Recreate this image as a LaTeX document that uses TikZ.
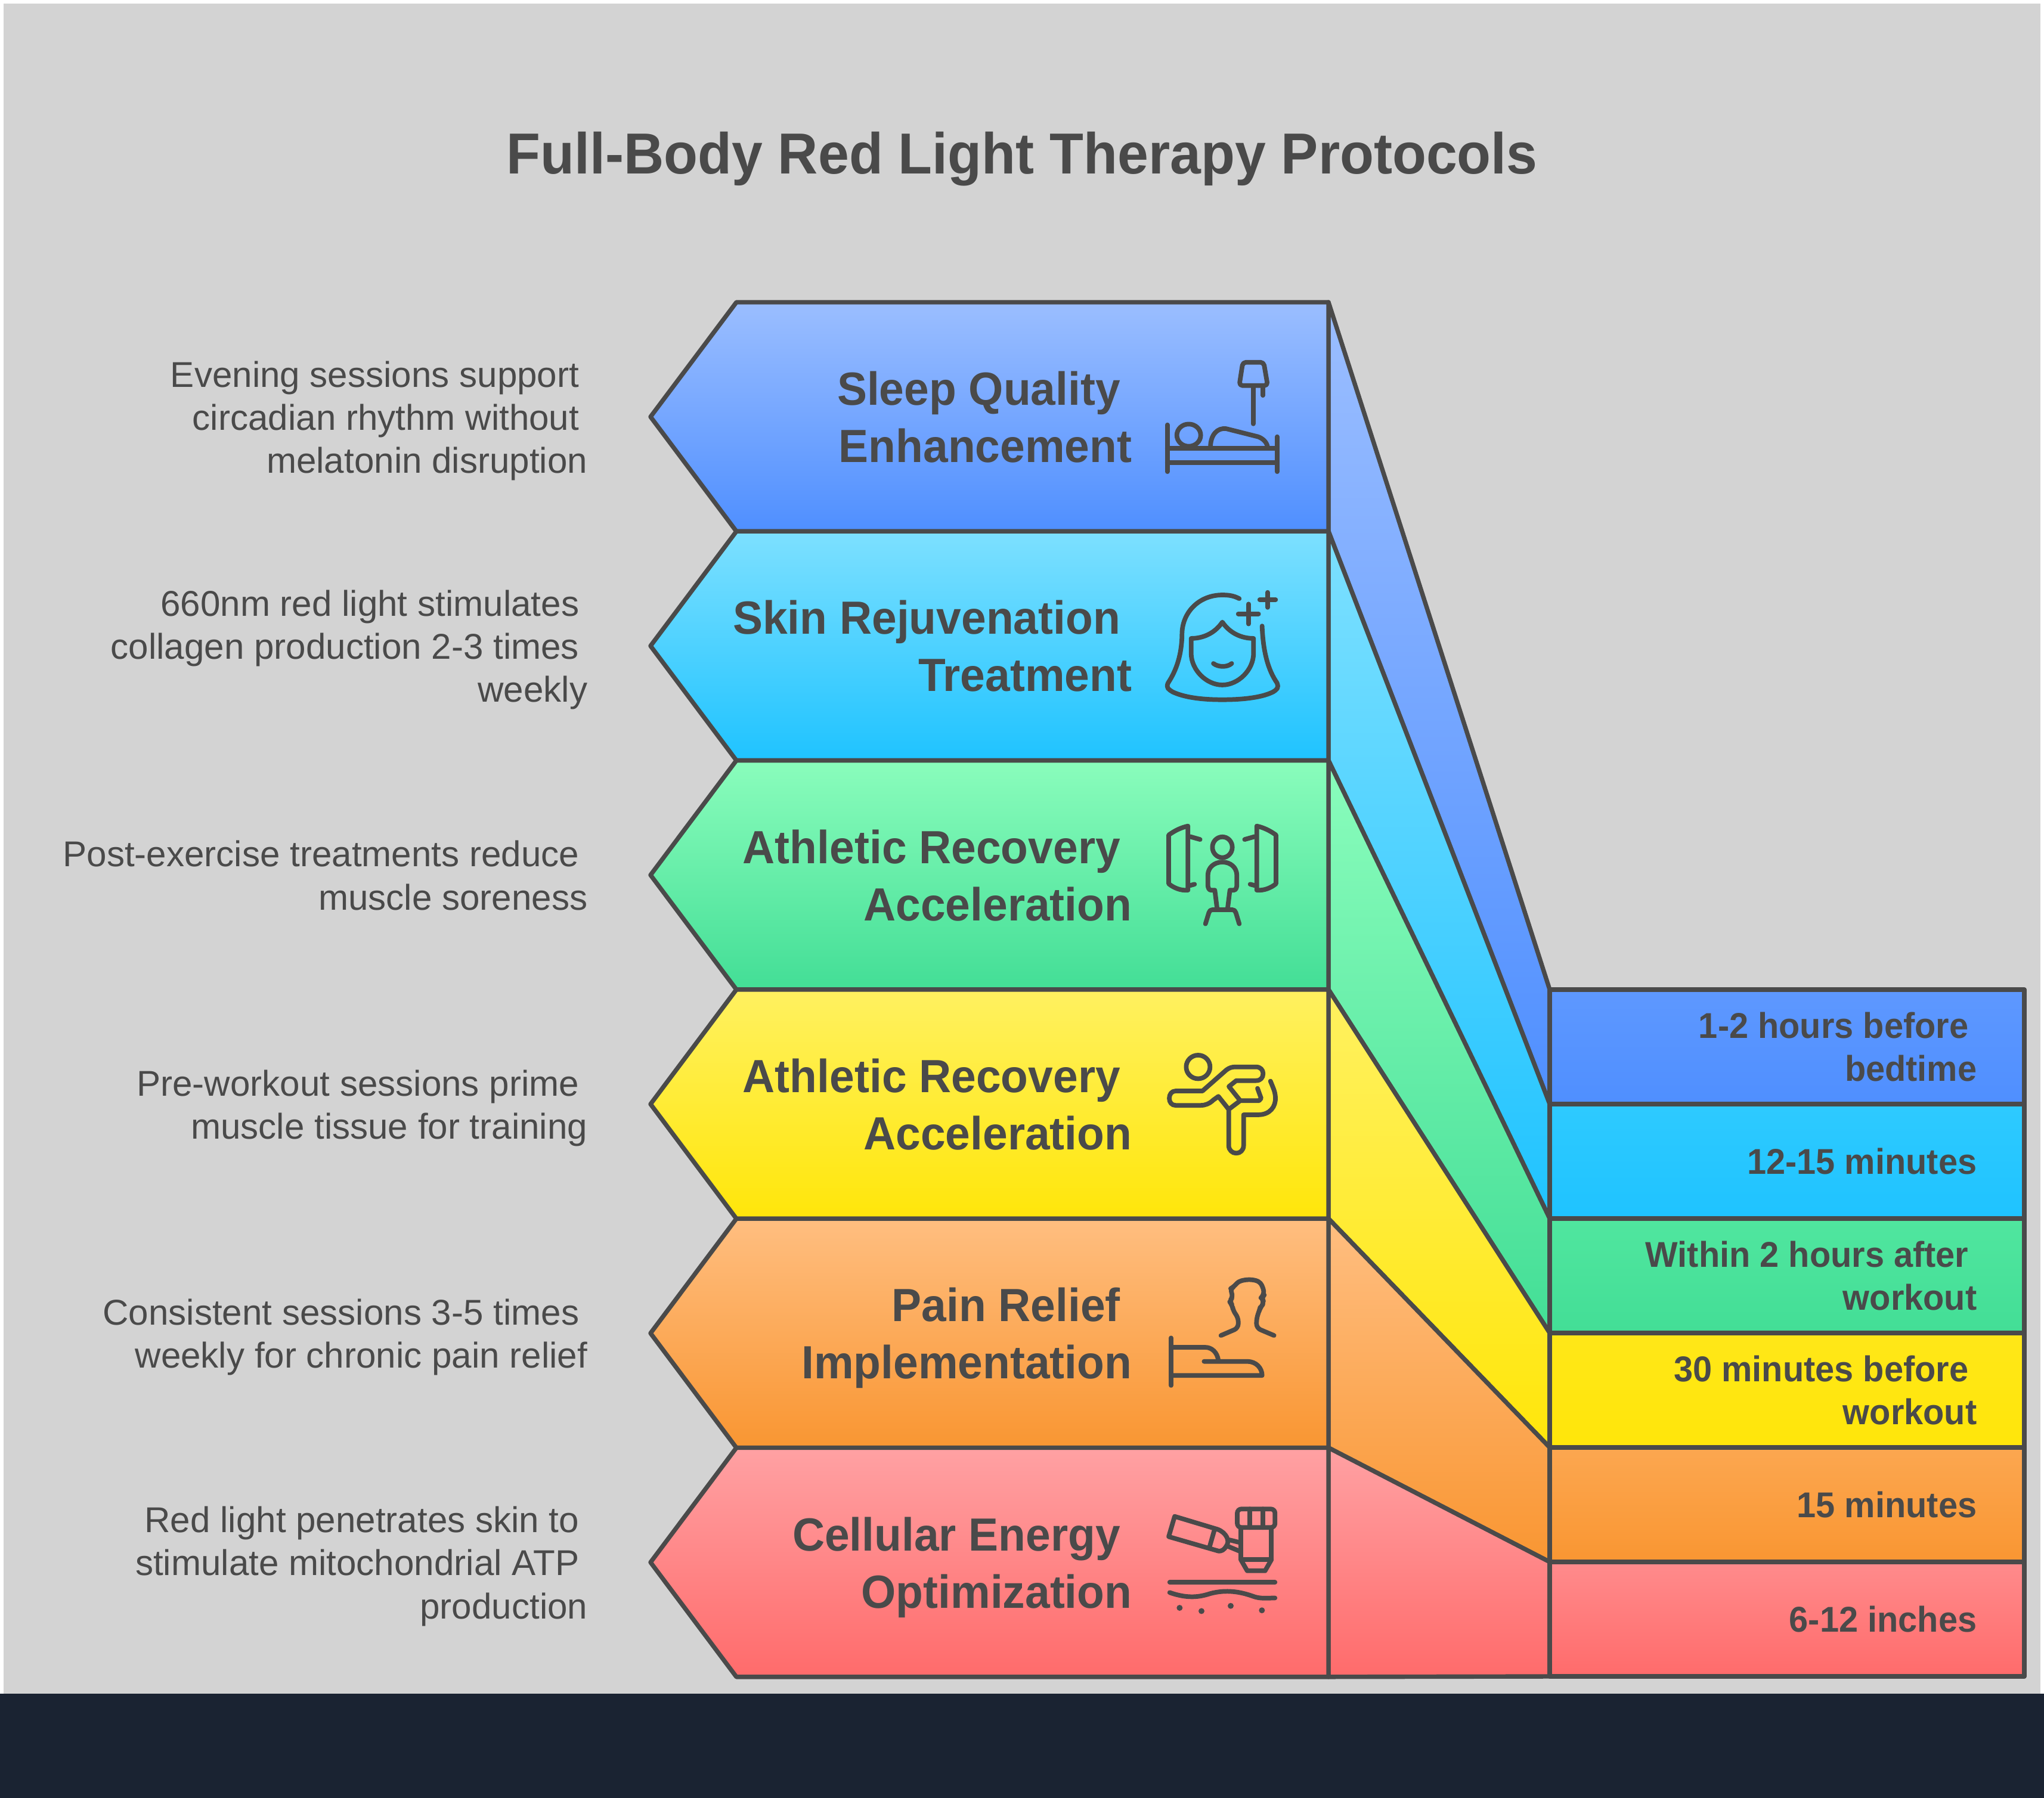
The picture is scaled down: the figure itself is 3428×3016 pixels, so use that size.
\documentclass[tikz,border=0pt]{standalone}
\usepackage{fontspec}
\setmainfont[BoldFeatures={FakeStretch=0.96}]{Liberation Sans}
\usetikzlibrary{positioning}

\definecolor{inkgray}{HTML}{4A4A4A}
\definecolor{pagegray}{HTML}{D3D3D3}
\definecolor{footband}{HTML}{1A2332}
\definecolor{rowAtop}{HTML}{9BBEFF}
\definecolor{rowAmid}{HTML}{5E98FF}
\definecolor{rowAbot}{HTML}{4F8FFF}
\definecolor{rowBtop}{HTML}{7DE0FF}
\definecolor{rowBmid}{HTML}{2ECAFF}
\definecolor{rowBbot}{HTML}{1FC3FF}
\definecolor{rowCtop}{HTML}{8AFDBC}
\definecolor{rowCmid}{HTML}{50E69F}
\definecolor{rowCbot}{HTML}{43DE96}
\definecolor{rowDtop}{HTML}{FFF160}
\definecolor{rowDmid}{HTML}{FFE718}
\definecolor{rowDbot}{HTML}{FFE60A}
\definecolor{rowEtop}{HTML}{FFBE80}
\definecolor{rowEmid}{HTML}{FCA750}
\definecolor{rowEbot}{HTML}{F99632}
\definecolor{rowFtop}{HTML}{FFA1A3}
\definecolor{rowFmid}{HTML}{FF8B8C}
\definecolor{rowFbot}{HTML}{FF6B6B}

% trailing blank of a wrapped line, and a strut that evens out the line boxes
\newcommand{\tailgap}[1]{\mbox{\kern#1}}
\newcommand{\evenline}{\rule[-0.25em]{0pt}{0.8em}}

\tikzset{
	band/.style={draw=inkgray, line width=2.1pt, line join=round},
	iconline/.style={draw=inkgray, line width=2.2pt, line cap=round, line join=round},
	noteText/.style={text=inkgray, align=right, inner sep=0pt, font=\fontsize{17.1}{20.5}\selectfont},
	rowTitle/.style={text=inkgray, align=right, inner sep=0pt, font=\fontsize{22.2}{27.3}\selectfont\bfseries},
	whenText/.style={text=inkgray, align=right, inner sep=0pt, font=\fontsize{17.1}{20.5}\selectfont\bfseries},
}

\begin{document}
\begin{tikzpicture}[x=0.01cm, y=-0.01cm]
	\pgfmathsetmacro{\RowStep}{384.3}
	\pgfmathsetmacro{\BoxStep}{192}
	\fill[white] (0,0) rectangle (3428,3016);
	\fill[pagegray] (6,6) rectangle (3422,2841);
	\fill[footband] (0,2841) rectangle (3428,3016);
	\node[text=inkgray, inner sep=0pt, font=\fontsize{27.6}{34}\selectfont\bfseries] (title) at (1714,268) {\evenline Full-Body Red Light Therapy Protocols};
	% one row per protocol, top to bottom
	\foreach \i/\key/\rowname/\noteline/\whenline in {
		0/A/{Sleep Quality\tailgap{5.5pt}\\Enhancement}/{Evening sessions support\tailgap{4pt}\\circadian rhythm without\tailgap{4pt}\\melatonin disruption}/{1-2 hours before\tailgap{4pt}\\bedtime},
		1/B/{Skin Rejuvenation\tailgap{5.5pt}\\Treatment}/{660nm red light stimulates\tailgap{4pt}\\collagen production 2-3 times\tailgap{4pt}\\weekly}/{12-15 minutes},
		2/C/{Athletic Recovery\tailgap{5.5pt}\\Acceleration}/{Post-exercise treatments reduce\tailgap{4pt}\\muscle soreness}/{Within 2 hours after\tailgap{4pt}\\workout},
		3/D/{Athletic Recovery\tailgap{5.5pt}\\Acceleration}/{Pre-workout sessions prime\tailgap{4pt}\\muscle tissue for training}/{30 minutes before\tailgap{4pt}\\workout},
		4/E/{Pain Relief\tailgap{5.5pt}\\Implementation}/{Consistent sessions 3-5 times\tailgap{4pt}\\weekly for chronic pain relief}/{15 minutes},
		5/F/{Cellular Energy\tailgap{5.5pt}\\Optimization}/{Red light penetrates skin to\tailgap{4pt}\\stimulate mitochondrial ATP\tailgap{4pt}\\production}/{6-12 inches}} {
		\pgfmathsetmacro{\RowTop}{507+\i*\RowStep}
		\pgfmathsetmacro{\RowBot}{\RowTop+\RowStep}
		\pgfmathsetmacro{\RowMid}{\RowTop+\RowStep/2}
		\pgfmathsetmacro{\BoxTop}{1660+\i*\BoxStep}
		\pgfmathsetmacro{\BoxBot}{\BoxTop+\BoxStep}
		\pgfmathsetmacro{\BoxMid}{\BoxTop+\BoxStep/2}
		% slanted link between chevron and time box
		\path[band, top color=row\key top, bottom color=row\key bot] (2228,\RowTop) -- (2599,\BoxTop) -- (2599,\BoxBot) -- (2228,\RowBot) -- cycle;
		\path[band, top color=row\key top, bottom color=row\key bot] (1235,\RowTop) -- (2228,\RowTop) -- (2228,\RowBot) -- (1235,\RowBot) -- (1091,\RowMid) -- cycle;
		\path[band, top color=row\key mid, bottom color=row\key bot] (2599,\BoxTop) rectangle (3395,\BoxBot);
		\node[rowTitle, anchor=east] (rowname\i) at (1899,\RowMid+10) {\evenline\rowname\evenline};
		\node[noteText, anchor=east] (note\i) at (986,\RowMid+8) {\evenline\noteline\evenline};
		\node[whenText, anchor=east] (when\i) at (3316,\BoxMid+7) {\evenline\whenline\evenline};
	}
	% bed and lamp
	\begin{scope}[shift={(1900,560)}, xscale=0.3333, yscale=0.4337]
		\draw[iconline, rounded corners=1.5pt] (553,110) -- (658,110) -- (678,200) -- (535,200) -- cycle;
		\draw[iconline] (605,205) -- (605,348);
		\draw[iconline] (654,205) -- (654,238);
		\draw[iconline] (173,352) -- (173,533);
		\draw[iconline] (726,398) -- (726,533);
		\draw[iconline] (173,443) -- (726,443);
		\draw[iconline] (173,498) -- (726,498);
		\draw[iconline] (281,392) ellipse (60 and 43);
		\draw[iconline] (390,440) .. controls (390,390) and (425,362) .. (470,367) -- (630,398) .. controls (655,405) and (675,420) .. (678,440);
		% face with sparkles
		\draw[iconline] (535,1024) .. controls (505,1012) and (480,1010) .. (450,1010) .. controls (330,1010) and (245,1080) .. (247,1165) .. controls (245,1240) and (220,1300) .. (177,1350) .. controls (165,1370) and (180,1375) .. (200,1385) .. controls (270,1410) and (370,1415) .. (450,1415) .. controls (530,1415) and (640,1410) .. (705,1385) .. controls (725,1375) and (735,1370) .. (725,1350) .. controls (680,1300) and (655,1230) .. (650,1130);
		\draw[iconline] (293,1178) .. controls (350,1178) and (410,1160) .. (450,1115) .. controls (490,1160) and (550,1178) .. (607,1178) -- (607,1235) .. controls (607,1300) and (530,1358) .. (450,1358) .. controls (370,1358) and (293,1300) .. (293,1235) -- cycle;
		\draw[iconline] (405,1275) .. controls (430,1290) and (475,1290) .. (497,1275);
		\draw[iconline] (530,1083) -- (632,1083);
		\draw[iconline] (582,1045) -- (582,1122);
		\draw[iconline] (638,1028) -- (718,1028);
		\draw[iconline] (678,1000) -- (678,1058);
	\end{scope}
	% person between panels, then stretching figure
	\begin{scope}[shift={(1900,1350)}, xscale=0.3333, yscale=0.3954]
		\draw[iconline] (277,90) .. controls (240,97) and (210,110) .. (180,128) -- (180,335) .. controls (205,352) and (240,365) .. (277,362) -- cycle;
		\draw[iconline] (288,135) -- (338,147);
		\draw[iconline] (288,342) -- (310,337);
		\draw[iconline] (623,90) .. controls (660,97) and (690,110) .. (720,128) -- (720,335) .. controls (695,352) and (660,365) .. (623,362) -- cycle;
		\draw[iconline] (612,135) -- (562,147);
		\draw[iconline] (612,342) -- (590,337);
		\draw[iconline] (450,180) ellipse (50 and 44);
		\draw[iconline] (424,443) -- (412,362) -- (392,362) .. controls (382,362) and (377,350) .. (377,340) -- (377,300) .. controls (377,265) and (410,243) .. (450,243) .. controls (490,243) and (523,265) .. (523,300) -- (523,340) .. controls (523,350) and (518,362) .. (508,362) -- (488,362) -- (476,443);
		\draw[iconline] (365,505) -- (382,458) .. controls (385,450) and (390,445) .. (400,445) -- (500,445) .. controls (510,445) and (515,450) .. (518,458) -- (535,505);
		\draw[iconline] (328,1112) ellipse (60 and 50);
		\draw[iconline] (482,1292) -- (430,1237) -- (405,1252) .. controls (385,1268) and (365,1275) .. (340,1275) -- (215,1275) .. controls (195,1275) and (183,1262) .. (183,1245) .. controls (183,1228) and (195,1214) .. (215,1214) -- (350,1214) -- (470,1125) .. controls (485,1115) and (500,1112) .. (515,1112) -- (620,1112) .. controls (642,1112) and (655,1125) .. (655,1140) .. controls (655,1158) and (642,1170) .. (620,1170) -- (520,1170) -- (483,1195) -- (540,1255) -- (635,1255) -- (645,1245) -- (627,1203);
		\draw[iconline] (540,1255) -- (482,1292) -- (482,1445) .. controls (482,1465) and (500,1478) .. (520,1478) .. controls (540,1478) and (557,1465) .. (557,1445) -- (557,1315) -- (630,1315) .. controls (690,1315) and (720,1280) .. (717,1240) .. controls (715,1215) and (705,1200) .. (692,1172);
	\end{scope}
	% head above bed, then tube and skin
	\begin{scope}[shift={(1900,2100)}, xscale=0.3333, yscale=0.4146]
		\draw[iconline, rounded corners=2pt] (443,338) -- (530,308) -- (530,265) -- (505,240) -- (500,215) -- (485,200) -- (505,180) -- (488,150) -- (510,140) .. controls (540,110) and (620,105) .. (655,140) -- (660,175) -- (645,185) -- (662,205) -- (640,225) -- (635,240) -- (622,268) -- (622,308) -- (710,338);
		\draw[iconline] (192,348) -- (192,540);
		\draw[iconline] (192,386) -- (365,386) .. controls (395,386) and (425,405) .. (430,440);
		\draw[iconline] (192,500) -- (650,500) .. controls (650,470) and (620,443) .. (575,443) -- (358,443);
		\draw[iconline] (210,1070) -- (425,1122) .. controls (470,1135) and (490,1170) .. (470,1190) .. controls (460,1205) and (445,1212) .. (430,1210) -- (180,1152) -- cycle;
		\draw[iconline] (410,1125) -- (385,1195);
		\draw[iconline] (485,1165) -- (535,1175);
		\draw[iconline] (475,1190) -- (535,1210);
		\draw[iconline, rounded corners=2pt] (525,1040) rectangle (715,1115);
		\draw[iconline] (587,1040) -- (587,1115);
		\draw[iconline] (653,1040) -- (653,1115);
		\draw[iconline] (543,1115) -- (543,1245) -- (697,1245) -- (697,1115);
		\draw[iconline] (543,1245) -- (575,1290) -- (665,1290) -- (697,1245);
		\draw[iconline] (185,1337) -- (715,1337);
		\draw[iconline] (185,1378) .. controls (280,1405) and (340,1395) .. (390,1382) .. controls (470,1365) and (540,1375) .. (600,1392) .. controls (640,1405) and (680,1400) .. (715,1400);
		\foreach \dotx/\doty in {235/1440, 345/1453, 492/1432, 649/1450} {
			\fill[inkgray] (\dotx,\doty) ellipse (15 and 12);
		}
	\end{scope}
\end{tikzpicture}
\end{document}
